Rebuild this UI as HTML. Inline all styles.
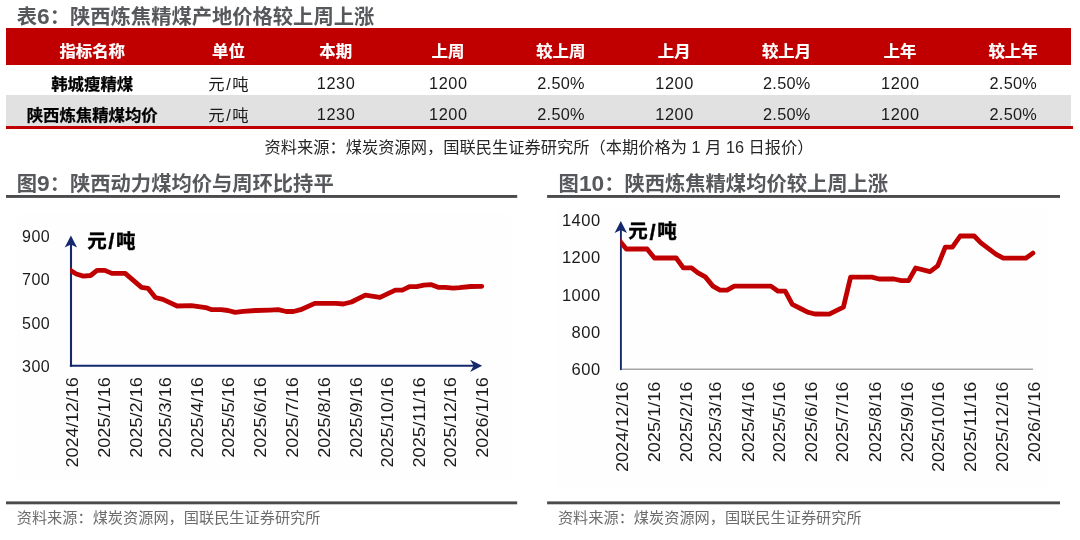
<!DOCTYPE html>
<html lang="zh-CN">
<head>
<meta charset="utf-8">
<title>陕西炼焦精煤产地价格</title>
<style>
html,body{margin:0;padding:0;background:#fff;}
body{width:1080px;height:540px;position:relative;overflow:hidden;font-family:"Liberation Sans", "Noto Sans CJK SC", sans-serif;color:#1a1a1a;}
.abs{position:absolute;white-space:nowrap;}
.title{position:absolute;white-space:nowrap;font-size:20.3px;font-weight:bold;color:#56585c;line-height:24px;height:24px;}
.n{font-size:1.12em;line-height:0;}
.src{position:absolute;white-space:nowrap;font-size:15.2px;color:#6c6c6c;line-height:20px;height:20px;}
.c{position:absolute;width:200px;height:24px;line-height:24px;text-align:center;white-space:nowrap;font-size:16.3px;}
.c.h{color:#fff;font-weight:bold;font-size:16.4px;-webkit-text-stroke:0.2px #fff;}
.c.b{color:#000;font-weight:bold;font-size:16.4px;-webkit-text-stroke:0.25px #000;}
.c.d{color:#1a1a1a;letter-spacing:0.55px;}
.u{letter-spacing:1.6px;margin-right:-1.6px;}
</style>
</head>
<body>
<div id="page" style="position:absolute;left:0;top:0;width:1080px;height:540px;will-change:transform">
<div class="title" style="left:16.8px;top:4.8px">表<span class="n">6</span>：陕西炼焦精煤产地价格较上周上涨</div>
<div class="abs" style="left:6px;top:28px;width:1065px;height:37px;background:#C00000"></div>
<div class="abs" style="left:6px;top:95px;width:1065px;height:31px;background:#E1E1E1"></div>
<div class="abs" style="left:6px;top:126px;width:1067px;height:2.5px;background:#C00000"></div>
<div class="c h" style="left:-7.80px;top:38.90px">指标名称</div>
<div class="c h" style="left:128.50px;top:38.90px">单位</div>
<div class="c h" style="left:235.75px;top:38.90px">本期</div>
<div class="c h" style="left:348.00px;top:38.90px">上周</div>
<div class="c h" style="left:460.75px;top:38.90px">较上周</div>
<div class="c h" style="left:574.25px;top:38.90px">上月</div>
<div class="c h" style="left:686.50px;top:38.90px">较上月</div>
<div class="c h" style="left:800.00px;top:38.90px">上年</div>
<div class="c h" style="left:913.00px;top:38.90px">较上年</div>
<div class="c b" style="left:-7.80px;top:72.40px">韩城瘦精煤</div>
<div class="c d" style="left:128.50px;top:72.00px"><span class="u">元/吨</span></div>
<div class="c d" style="left:236.05px;top:70.90px">1230</div>
<div class="c d" style="left:348.30px;top:70.90px">1200</div>
<div class="c d" style="left:461.05px;top:70.90px"><span style="letter-spacing:0.3px">2.50%</span></div>
<div class="c d" style="left:574.55px;top:70.90px">1200</div>
<div class="c d" style="left:686.80px;top:70.90px"><span style="letter-spacing:0.3px">2.50%</span></div>
<div class="c d" style="left:800.30px;top:70.90px">1200</div>
<div class="c d" style="left:913.30px;top:70.90px"><span style="letter-spacing:0.3px">2.50%</span></div>
<div class="c b" style="left:-7.80px;top:103.15px">陕西炼焦精煤均价</div>
<div class="c d" style="left:128.50px;top:102.75px"><span class="u">元/吨</span></div>
<div class="c d" style="left:236.05px;top:101.65px">1230</div>
<div class="c d" style="left:348.30px;top:101.65px">1200</div>
<div class="c d" style="left:461.05px;top:101.65px"><span style="letter-spacing:0.3px">2.50%</span></div>
<div class="c d" style="left:574.55px;top:101.65px">1200</div>
<div class="c d" style="left:686.80px;top:101.65px"><span style="letter-spacing:0.3px">2.50%</span></div>
<div class="c d" style="left:800.30px;top:101.65px">1200</div>
<div class="c d" style="left:913.30px;top:101.65px"><span style="letter-spacing:0.3px">2.50%</span></div>
<div class="abs" style="left:264.6px;top:137.3px;font-size:16.25px;line-height:20px;color:#262626">资料来源：煤炭资源网，国联民生证券研究所（本期价格为 1 月 16 日报价）</div>

<div class="title" style="left:16.8px;top:172.1px">图<span class="n">9</span>：陕西动力煤均价与周环比持平</div>
<div class="title" style="left:558.6px;top:172.4px">图<span class="n">10</span>：陕西炼焦精煤均价较上周上涨</div>

<svg width="1080" height="540" viewBox="0 0 1080 540" style="position:absolute;left:0;top:0" font-family='"Liberation Sans", "Noto Sans CJK SC", sans-serif' fill="#1a1a1a">
<!-- chart image areas (very faint off-white) -->
<rect x="17" y="213.8" width="494" height="265.6" fill="#FEFEFE"/>
<rect x="558" y="208.8" width="489" height="279" fill="#FEFEFE"/>
<!-- rules -->
<g fill="#4a4b4d">
<rect x="6" y="195" width="511.2" height="2.9"/>
<rect x="547.1" y="195" width="512.9" height="2.9"/>
<rect x="6" y="501.4" width="511.2" height="2.9"/>
<rect x="547.1" y="501.4" width="512.9" height="2.9"/>
</g>
<!-- left chart -->
<g>
<line x1="71.0" y1="366.7" x2="71.0" y2="244" stroke="#14296D" stroke-width="2.1"/>
<polygon points="70.9,235.4 77.1,247.6 70.9,244.4 64.7,247.6" fill="#14296D"/>
<line x1="69.85" y1="365.7" x2="474" y2="365.7" stroke="#14296D" stroke-width="2.1"/>
<polygon points="482.2,365.8 470.1,371.9 473.7,365.8 470.1,359.7" fill="#14296D"/>
<clipPath id="cl"><rect x="70.2" y="200" width="440" height="160"/></clipPath>
<polyline points="66.0,267.6 70.6,270.5 76.3,274.0 83.4,276.1 90.6,275.5 97.1,270.4 104.8,270.4 111.9,273.4 125.2,273.4 141.5,287.3 148.0,288.3 155.3,297.5 162.9,299.3 177.1,306.0 191.4,305.6 205.7,307.6 211.8,309.7 220.9,309.7 228.1,310.5 235.2,312.3 243.3,311.3 255.6,310.5 270.0,310.1 278.1,309.7 286.3,311.5 293.4,311.5 300.6,309.7 314.8,303.4 336.2,303.4 343.3,304.0 351.5,302.0 365.3,295.2 380.0,297.3 395.3,290.1 402.4,290.1 409.5,286.7 416.7,286.7 423.8,285.2 430.9,284.6 438.1,287.3 445.2,287.3 453.3,288.1 459.4,287.7 470.7,286.5 481.8,286.3" clip-path="url(#cl)" fill="none" stroke="#C00000" stroke-width="4.8" stroke-linejoin="round" stroke-linecap="round"/>
<text x="50.199999999999996" y="236.0" text-anchor="end" font-size="16" letter-spacing="0.5" dy="0.36em">900</text>
<text x="50.199999999999996" y="279.45" text-anchor="end" font-size="16" letter-spacing="0.5" dy="0.36em">700</text>
<text x="50.199999999999996" y="322.9" text-anchor="end" font-size="16" letter-spacing="0.5" dy="0.36em">500</text>
<text x="50.199999999999996" y="366.3" text-anchor="end" font-size="16" letter-spacing="0.5" dy="0.36em">300</text>
<text transform="translate(71.80,377.2) rotate(-90)" text-anchor="end" font-size="16" textLength="90.4" lengthAdjust="spacingAndGlyphs" dy="0.36em">2024/12/16</text>
<text transform="translate(103.96,377.2) rotate(-90)" text-anchor="end" font-size="16" textLength="80.6" lengthAdjust="spacingAndGlyphs" dy="0.36em">2025/1/16</text>
<text transform="translate(136.12,377.2) rotate(-90)" text-anchor="end" font-size="16" textLength="80.6" lengthAdjust="spacingAndGlyphs" dy="0.36em">2025/2/16</text>
<text transform="translate(165.18,377.2) rotate(-90)" text-anchor="end" font-size="16" textLength="80.6" lengthAdjust="spacingAndGlyphs" dy="0.36em">2025/3/16</text>
<text transform="translate(197.34,377.2) rotate(-90)" text-anchor="end" font-size="16" textLength="80.6" lengthAdjust="spacingAndGlyphs" dy="0.36em">2025/4/16</text>
<text transform="translate(228.46,377.2) rotate(-90)" text-anchor="end" font-size="16" textLength="80.6" lengthAdjust="spacingAndGlyphs" dy="0.36em">2025/5/16</text>
<text transform="translate(260.62,377.2) rotate(-90)" text-anchor="end" font-size="16" textLength="80.6" lengthAdjust="spacingAndGlyphs" dy="0.36em">2025/6/16</text>
<text transform="translate(291.75,377.2) rotate(-90)" text-anchor="end" font-size="16" textLength="80.6" lengthAdjust="spacingAndGlyphs" dy="0.36em">2025/7/16</text>
<text transform="translate(323.91,377.2) rotate(-90)" text-anchor="end" font-size="16" textLength="80.6" lengthAdjust="spacingAndGlyphs" dy="0.36em">2025/8/16</text>
<text transform="translate(356.08,377.2) rotate(-90)" text-anchor="end" font-size="16" textLength="80.6" lengthAdjust="spacingAndGlyphs" dy="0.36em">2025/9/16</text>
<text transform="translate(387.20,377.2) rotate(-90)" text-anchor="end" font-size="16" textLength="90.4" lengthAdjust="spacingAndGlyphs" dy="0.36em">2025/10/16</text>
<text transform="translate(419.36,377.2) rotate(-90)" text-anchor="end" font-size="16" textLength="90.4" lengthAdjust="spacingAndGlyphs" dy="0.36em">2025/11/16</text>
<text transform="translate(450.49,377.2) rotate(-90)" text-anchor="end" font-size="16" textLength="90.4" lengthAdjust="spacingAndGlyphs" dy="0.36em">2025/12/16</text>
<text transform="translate(482.65,377.2) rotate(-90)" text-anchor="end" font-size="16" textLength="80.6" lengthAdjust="spacingAndGlyphs" dy="0.36em">2026/1/16</text>
<text x="87.2" y="240.55" font-size="19.5" font-weight="bold" fill="#000" stroke="#000" stroke-width="0.35" letter-spacing="1.6" dy="0.36em">元<tspan font-size="22" dy="1.9">/</tspan><tspan dy="-1.9">吨</tspan></text>
</g>
<!-- right chart -->
<g>
<line x1="620.9" y1="370.1" x2="620.9" y2="230" stroke="#14296D" stroke-width="1.9"/>
<polygon points="620.8,221.1 627.0,233.1 620.8,230 614.6,233.1" fill="#14296D"/>
<line x1="621.8" y1="369.3" x2="1033" y2="369.3" stroke="#A6A6A6" stroke-width="1.6"/>
<clipPath id="cr"><rect x="620.4" y="200" width="440" height="160"/></clipPath>
<polyline points="618.0,238.9 620.8,242.3 626.3,249.0 647.1,249.0 654.4,258.0 676.2,258.0 683.3,267.8 691.5,267.8 698.0,272.9 705.3,276.9 712.9,286.1 720.0,290.2 727.1,290.2 734.3,286.1 770.9,286.1 778.1,291.2 785.2,291.2 792.3,304.4 800.5,308.5 807.6,312.2 814.7,314.0 829.2,314.2 843.4,307.1 850.6,277.1 871.9,277.1 879.1,279.0 893.9,279.0 901.5,280.6 908.6,280.6 915.7,268.0 930.0,271.6 937.7,265.9 945.3,247.2 952.4,247.2 960.2,236.0 974.2,236.0 980.9,242.9 996.2,254.3 1003.3,258.2 1025.7,258.2 1032.9,253.1" clip-path="url(#cr)" fill="none" stroke="#C00000" stroke-width="4.8" stroke-linejoin="round" stroke-linecap="round"/>
<text x="600.5999999999999" y="220.4" text-anchor="end" font-size="16.5" letter-spacing="0.5" dy="0.36em">1400</text>
<text x="600.5999999999999" y="257.5" text-anchor="end" font-size="16.5" letter-spacing="0.5" dy="0.36em">1200</text>
<text x="600.5999999999999" y="294.6" text-anchor="end" font-size="16.5" letter-spacing="0.5" dy="0.36em">1000</text>
<text x="600.5999999999999" y="331.7" text-anchor="end" font-size="16.5" letter-spacing="0.5" dy="0.36em">800</text>
<text x="600.5999999999999" y="368.9" text-anchor="end" font-size="16.5" letter-spacing="0.5" dy="0.36em">600</text>
<text transform="translate(621.80,381.7) rotate(-90)" text-anchor="end" font-size="16" textLength="90.4" lengthAdjust="spacingAndGlyphs" dy="0.36em">2024/12/16</text>
<text transform="translate(654.07,381.7) rotate(-90)" text-anchor="end" font-size="16" textLength="80.6" lengthAdjust="spacingAndGlyphs" dy="0.36em">2025/1/16</text>
<text transform="translate(686.34,381.7) rotate(-90)" text-anchor="end" font-size="16" textLength="80.6" lengthAdjust="spacingAndGlyphs" dy="0.36em">2025/2/16</text>
<text transform="translate(715.49,381.7) rotate(-90)" text-anchor="end" font-size="16" textLength="80.6" lengthAdjust="spacingAndGlyphs" dy="0.36em">2025/3/16</text>
<text transform="translate(747.76,381.7) rotate(-90)" text-anchor="end" font-size="16" textLength="80.6" lengthAdjust="spacingAndGlyphs" dy="0.36em">2025/4/16</text>
<text transform="translate(778.99,381.7) rotate(-90)" text-anchor="end" font-size="16" textLength="80.6" lengthAdjust="spacingAndGlyphs" dy="0.36em">2025/5/16</text>
<text transform="translate(811.26,381.7) rotate(-90)" text-anchor="end" font-size="16" textLength="80.6" lengthAdjust="spacingAndGlyphs" dy="0.36em">2025/6/16</text>
<text transform="translate(842.49,381.7) rotate(-90)" text-anchor="end" font-size="16" textLength="80.6" lengthAdjust="spacingAndGlyphs" dy="0.36em">2025/7/16</text>
<text transform="translate(874.76,381.7) rotate(-90)" text-anchor="end" font-size="16" textLength="80.6" lengthAdjust="spacingAndGlyphs" dy="0.36em">2025/8/16</text>
<text transform="translate(907.03,381.7) rotate(-90)" text-anchor="end" font-size="16" textLength="80.6" lengthAdjust="spacingAndGlyphs" dy="0.36em">2025/9/16</text>
<text transform="translate(938.26,381.7) rotate(-90)" text-anchor="end" font-size="16" textLength="90.4" lengthAdjust="spacingAndGlyphs" dy="0.36em">2025/10/16</text>
<text transform="translate(970.53,381.7) rotate(-90)" text-anchor="end" font-size="16" textLength="90.4" lengthAdjust="spacingAndGlyphs" dy="0.36em">2025/11/16</text>
<text transform="translate(1001.76,381.7) rotate(-90)" text-anchor="end" font-size="16" textLength="90.4" lengthAdjust="spacingAndGlyphs" dy="0.36em">2025/12/16</text>
<text transform="translate(1034.04,381.7) rotate(-90)" text-anchor="end" font-size="16" textLength="80.6" lengthAdjust="spacingAndGlyphs" dy="0.36em">2026/1/16</text>
<text x="628.3" y="231.3" font-size="19.5" font-weight="bold" fill="#000" stroke="#000" stroke-width="0.35" letter-spacing="1.6" dy="0.36em">元<tspan font-size="22" dy="1.9">/</tspan><tspan dy="-1.9">吨</tspan></text>
</g>
</svg>

<div class="src" style="left:16.7px;top:508px">资料来源：煤炭资源网，国联民生证券研究所</div>
<div class="src" style="left:557.9px;top:508px">资料来源：煤炭资源网，国联民生证券研究所</div>
</div>
</body>
</html>
